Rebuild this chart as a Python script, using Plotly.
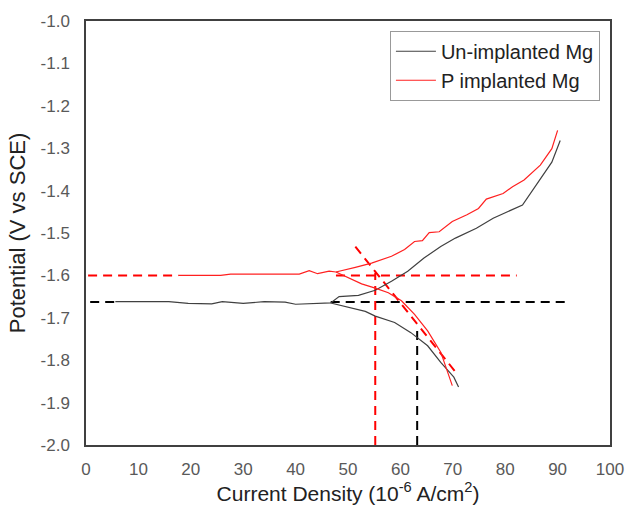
import plotly.graph_objects as go

# Un-implanted Mg (current density 1e-6 A/cm2, potential V vs SCE)
un_x = [5.6, 15.8, 19.5, 24.0, 26.0, 30.0, 34.0, 38.0, 40.0, 46.7,
        48.3, 52.0, 55.2, 58.3, 61.4, 64.5, 67.7, 70.5, 74.5, 77.7, 83.3, 86.4, 88.9, 90.5]
un_y = [-1.662, -1.662, -1.666, -1.667, -1.662, -1.666, -1.662, -1.663, -1.668, -1.665,
        -1.650, -1.647, -1.635, -1.614, -1.590, -1.559, -1.532, -1.512, -1.489, -1.465, -1.434, -1.379, -1.333, -1.282]
un_cx = [46.7, 49.5, 53.3, 55.2, 58.9, 62.0, 65.2, 67.7, 70.2, 71.1]
un_cy = [-1.665, -1.674, -1.685, -1.696, -1.711, -1.735, -1.766, -1.805, -1.840, -1.863]

# P implanted Mg
p_x = [17.6, 25.7, 27.6, 40.7, 42.6, 44.2, 46.4, 47.7,
       51.4, 54.5, 58.3, 60.8, 62.7, 64.2, 65.5, 67.4, 69.9, 72.7, 74.9, 76.4, 79.6, 81.4, 83.6, 86.7, 88.9, 90.0]
p_y = [-1.600, -1.600, -1.597, -1.597, -1.589, -1.596, -1.590, -1.592,
       -1.581, -1.571, -1.555, -1.539, -1.520, -1.518, -1.499, -1.497, -1.473, -1.457, -1.442, -1.420, -1.407, -1.391, -1.375, -1.340, -1.301, -1.258]
p_cx = [47.7, 50.2, 52.6, 55.2, 57.7, 60.2, 62.7, 65.2, 67.7, 69.9]
p_cy = [-1.592, -1.606, -1.620, -1.630, -1.641, -1.660, -1.692, -1.731, -1.781, -1.860]

# Tafel construction lines
ecorr_un = -1.663
ecorr_p = -1.600
icorr_un = 63.2
icorr_p = 55.2
un_hline_x = [0.8, 5.6, None, 46.7, 92.3]
p_hline_x = [0.4, 17.6, None, 47.7, 82.2]
p_tafel_x = [51.4, 70.8]
p_tafel_y = [-1.532, -1.832]
un_vline_top = -1.719
p_vline_top = -1.594

# Axis ticks
x_ticks = list(range(0, 101, 10))
y_ticks = [-1.0, -1.1, -1.2, -1.3, -1.4, -1.5, -1.6, -1.7, -1.8, -1.9, -2.0]
y_ticklabels = ["-1.0", "-1.1", "-1.2", "-1.3", "-1.4", "-1.5", "-1.6", "-1.7", "-1.8", "-1.9", "-2.0"]

BLACK = "#404040"
RED = "#ff2020"

fig = go.Figure()
dash_style = "9px,6px"

fig.add_trace(go.Scatter(x=un_hline_x, y=[ecorr_un, ecorr_un, None, ecorr_un, ecorr_un], mode="lines",
                         line=dict(color="black", width=2, dash=dash_style), showlegend=False, hoverinfo="skip"))
fig.add_trace(go.Scatter(x=p_hline_x, y=[ecorr_p, ecorr_p, None, ecorr_p, ecorr_p], mode="lines",
                         line=dict(color="red", width=2, dash=dash_style), showlegend=False, hoverinfo="skip"))
fig.add_trace(go.Scatter(x=[icorr_un, icorr_un], y=[-2.0, un_vline_top], mode="lines",
                         line=dict(color="black", width=2, dash=dash_style), showlegend=False, hoverinfo="skip"))
fig.add_trace(go.Scatter(x=[icorr_p, icorr_p], y=[-2.0, p_vline_top], mode="lines",
                         line=dict(color="red", width=2, dash=dash_style), showlegend=False, hoverinfo="skip"))
fig.add_trace(go.Scatter(x=p_tafel_x, y=p_tafel_y, mode="lines",
                         line=dict(color="red", width=2, dash=dash_style), showlegend=False, hoverinfo="skip"))

fig.add_trace(go.Scatter(x=un_x, y=un_y, mode="lines", name="Un-implanted Mg",
                         line=dict(color=BLACK, width=1.2)))
fig.add_trace(go.Scatter(x=un_cx, y=un_cy, mode="lines", showlegend=False,
                         line=dict(color=BLACK, width=1.2)))
fig.add_trace(go.Scatter(x=p_x, y=p_y, mode="lines", name="P implanted Mg",
                         line=dict(color=RED, width=1.2)))
fig.add_trace(go.Scatter(x=p_cx, y=p_cy, mode="lines", showlegend=False,
                         line=dict(color=RED, width=1.2)))

font_family = "Arial, Liberation Sans, sans-serif"
fig.update_layout(
    width=636, height=521,
    margin=dict(l=86, r=17, t=18, b=76),
    plot_bgcolor="white", paper_bgcolor="white",
    font=dict(family=font_family, color="#595959"),
    showlegend=True,
    legend=dict(x=0.58, y=0.977, xanchor="left", yanchor="top",
                bgcolor="white", bordercolor="#999999", borderwidth=1,
                font=dict(size=20, color="#222222"), tracegroupgap=0,
                itemwidth=40),
    xaxis=dict(range=[0, 100], tickvals=x_ticks, showgrid=False, zeroline=False,
               showline=True, linecolor="#404040", linewidth=1.5, mirror=True,
               ticks="", tickfont=dict(size=17, color="#595959"), ticklabelstandoff=8,
               title=dict(text="Current Density (10<sup>-6</sup> A/cm<sup>2</sup>)",
                          font=dict(size=21, color="#222222"), standoff=7)),
    yaxis=dict(range=[-2.0, -1.0], tickvals=y_ticks, ticktext=y_ticklabels,
               showgrid=False, zeroline=False,
               showline=True, linecolor="#404040", linewidth=1.5, mirror=True,
               ticks="", tickfont=dict(size=17, color="#595959"), ticklabelstandoff=11,
               title=dict(text="Potential (V vs SCE)",
                          font=dict(size=22, color="#222222"), standoff=9)),
)

fig.write_html("out.html")
